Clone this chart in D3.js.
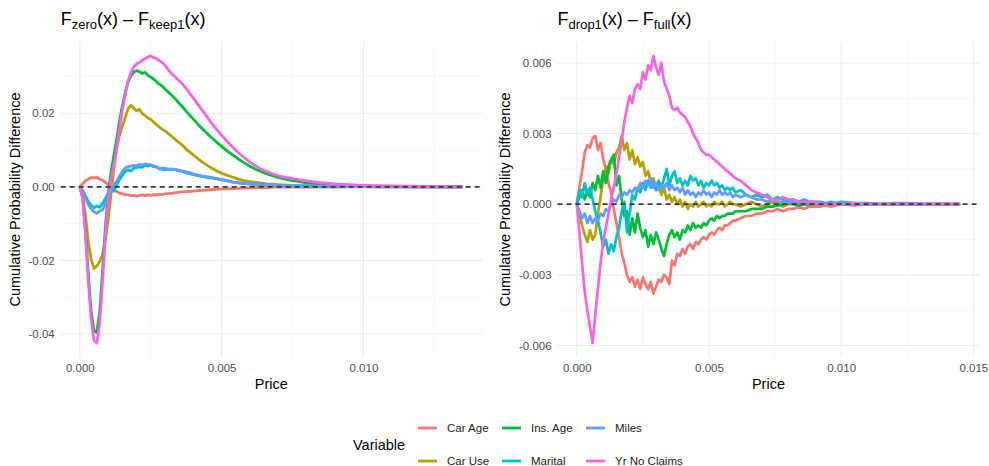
<!DOCTYPE html>
<html>
<head>
<meta charset="utf-8">
<script src="https://cdn.jsdelivr.net/npm/d3@7"></script>
<style>
  html, body { margin: 0; padding: 0; background: #ffffff; }
  svg { display: block; font-family: "Liberation Sans", Arial, Helvetica, sans-serif; }
</style>
</head>
<body>
<svg id="chart" width="989" height="466"></svg>
<script>
// ---- Series order, labels and colours (ggplot hue palette) ----
const variables = ["Car Age", "Car Use", "Ins. Age", "Marital", "Miles", "Yr No Claims"];
const colors = ["#F8766D", "#B79F00", "#00BA38", "#00BFC4", "#619CFF", "#F564E3"];

// ---- Left panel: F_zero(x) - F_keep1(x) ----
const priceL = [
  0, 0.0001, 0.0002, 0.0003, 0.0004, 0.0005, 0.0006, 0.0007, 0.0008, 0.0009, 0.0010,
  0.0011, 0.0012, 0.0013, 0.0014, 0.0015, 0.0016, 0.0017, 0.0018, 0.0019, 0.0020,
  0.0021, 0.0022, 0.0023, 0.0024, 0.0025, 0.0026, 0.0027, 0.0028, 0.0029, 0.0030,
  0.0032, 0.0034, 0.0036, 0.0038, 0.0040, 0.0042, 0.0044, 0.0046, 0.0048, 0.0050,
  0.0052, 0.0054, 0.0056, 0.0058, 0.0060, 0.0062, 0.0064, 0.0066, 0.0068, 0.0070,
  0.0075, 0.0080, 0.0085, 0.0090, 0.0095, 0.0100, 0.0105, 0.0110, 0.0115, 0.0120, 0.0125, 0.0130, 0.0135
];
const carAgeL = [
  0, 0.0008, 0.0016, 0.0021, 0.0025, 0.0024, 0.0025, 0.0021, 0.0018, 0.0012, 0.0006,
  0, -0.0008, -0.0013, -0.0017, -0.0019, -0.0021, -0.0022, -0.0024, -0.0023, -0.0025,
  -0.0024, -0.0022, -0.0024, -0.0022, -0.0023, -0.0021, -0.0022, -0.0020, -0.0021, -0.0019,
  -0.0018, -0.0016, -0.0014, -0.0013, -0.0012, -0.0010, -0.0009, -0.0008, -0.0007, -0.0006,
  -0.0005, -0.0005, -0.0004, -0.0003, -0.0003, -0.0002, -0.0002, -0.0002, -0.0001, -0.0001,
  -0.0001, -0.0001, -0.00005, -0.00005, -0.00003, -0.00002, -0.00001, 0, 0, 0, 0, 0, 0
];
const carUseL = [
  0, -0.002, -0.008, -0.015, -0.0198, -0.0222, -0.0215, -0.0203, -0.0185, -0.0145, -0.009,
  -0.002, 0.005, 0.0105, 0.0142, 0.0165, 0.0188, 0.0212, 0.0222, 0.0213, 0.0207,
  0.0211, 0.0199, 0.0194, 0.0187, 0.0183, 0.0176, 0.0169, 0.0163, 0.0157, 0.0152,
  0.0140, 0.0126, 0.0114, 0.0099, 0.0087, 0.0074, 0.0063, 0.0053, 0.0044, 0.0037,
  0.0031, 0.0026, 0.0021, 0.0017, 0.0014, 0.0012, 0.0010, 0.0008, 0.0007, 0.0006,
  0.0004, 0.0003, 0.0002, 0.0001, 0.00005, 0.00003, 0.00002, 0.00001, 0, 0, 0, 0, 0
];
const insAgeL = [
  0, -0.003, -0.012, -0.024, -0.034, -0.0392, -0.0396, -0.034, -0.023, -0.011, -0.002,
  0.004, 0.0085, 0.013, 0.018, 0.022, 0.0256, 0.0284, 0.0302, 0.0311, 0.0316,
  0.0313, 0.0308, 0.0311, 0.0303, 0.0298, 0.0293, 0.0286, 0.0279, 0.0274, 0.0266,
  0.0252, 0.0236, 0.0219, 0.0201, 0.0184, 0.0167, 0.0152, 0.0137, 0.0123, 0.0110,
  0.0097, 0.0086, 0.0075, 0.0065, 0.0056, 0.0048, 0.0041, 0.0035, 0.0030, 0.0025,
  0.0017, 0.0011, 0.0008, 0.0006, 0.0004, 0.0003, 0.0002, 0.00015, 0.0001, 0.00005, 0.00003, 0.00001, 0
];
const maritalL = [
  0, -0.001, -0.0025, -0.004, -0.005, -0.0057, -0.0052, -0.0056, -0.0045, -0.0032, -0.0018,
  -0.0008, -0.0012, 0.0006, 0.0019, 0.0032, 0.0041, 0.0046, 0.0043, 0.0050, 0.0052,
  0.0055, 0.0053, 0.0058, 0.0056, 0.0060, 0.0055, 0.0055, 0.0050, 0.0047, 0.0046,
  0.0049, 0.0046, 0.0042, 0.0037, 0.0033, 0.0030, 0.0027, 0.0024, 0.0022, 0.0019,
  0.0016, 0.0013, 0.0011, 0.0009, 0.0008, 0.0007, 0.0006, 0.0005, 0.0004, 0.0003,
  0.0003, 0.0002, 0.0002, 0.0001, 0.0001, 0.00005, 0.00005, 0.00003, 0.00002, 0.00001, 0, 0, 0
];
const milesL = [
  0, -0.001, -0.003, -0.0048, -0.006, -0.0068, -0.0072, -0.0066, -0.0063, -0.0046, -0.0029,
  -0.0012, 0.0003, 0.0016, 0.0029, 0.0042, 0.0051, 0.0055, 0.0056, 0.0058, 0.0057,
  0.0061, 0.0059, 0.0062, 0.0061, 0.0058, 0.0057, 0.0053, 0.0049, 0.0051, 0.0050,
  0.0047, 0.0047, 0.0043, 0.0040, 0.0035, 0.0031, 0.0028, 0.0026, 0.0023, 0.0020,
  0.0017, 0.0013, 0.0011, 0.0009, 0.0007, 0.0006, 0.0005, 0.0005, 0.0004, 0.0003,
  0.0002, 0.0002, 0.0001, 0.0001, 0.00005, 0.00005, 0.00003, 0.00002, 0.00001, 0, 0, 0, 0
];
const yrNoClaimsL = [
  0, -0.003, -0.013, -0.026, -0.036, -0.0418, -0.0425, -0.037, -0.026, -0.013, -0.004,
  0.002, 0.006, 0.0105, 0.016, 0.021, 0.025, 0.0288, 0.031, 0.0326, 0.0334,
  0.0338, 0.0344, 0.0348, 0.0353, 0.0356, 0.0351, 0.0349, 0.0343, 0.0338, 0.0331,
  0.0310, 0.0296, 0.0281, 0.0262, 0.0241, 0.0220, 0.0199, 0.0178, 0.0158, 0.0140,
  0.0123, 0.0107, 0.0092, 0.0079, 0.0067, 0.0057, 0.0048, 0.0041, 0.0035, 0.0030,
  0.0022, 0.0016, 0.0011, 0.0008, 0.0006, 0.0004, 0.0003, 0.0002, 0.00015, 0.0001, 0.00005, 0.00002, 0
];

// ---- Right panel: F_drop1(x) - F_full(x) ----
const priceR = [
  0, 0.0001, 0.0002, 0.0003, 0.0004, 0.0005, 0.0006, 0.0007, 0.0008, 0.0009, 0.0010,
  0.0011, 0.0012, 0.0013, 0.0014, 0.0015, 0.0016, 0.0017, 0.0018, 0.0019, 0.0020,
  0.0021, 0.0022, 0.0023, 0.0024, 0.0025, 0.0026, 0.0027, 0.0028, 0.0029, 0.0030,
  0.0031, 0.0032, 0.0033, 0.0034, 0.0035, 0.0036, 0.0037, 0.0038, 0.0039, 0.0040,
  0.0041, 0.0042, 0.0043, 0.0044, 0.0045, 0.0046, 0.0047, 0.0048, 0.0049, 0.0050,
  0.0051, 0.0052, 0.0053, 0.0054, 0.0055, 0.0056, 0.0057, 0.0058, 0.0059, 0.0060,
  0.0062, 0.0064, 0.0066, 0.0068, 0.0070, 0.0072, 0.0074, 0.0076, 0.0078, 0.0080,
  0.0082, 0.0084, 0.0086, 0.0088, 0.0090, 0.0092, 0.0094, 0.0096, 0.0098, 0.0100,
  0.0105, 0.0110, 0.0115, 0.0120, 0.0125, 0.0130, 0.0135, 0.0140, 0.0145
];
const carAgeR = [
  0, 0.0007, 0.0014, 0.0022, 0.0025, 0.0024, 0.0028, 0.0029, 0.0023, 0.0026, 0.0019,
  0.0015, 0.0009, 0.0005, -0.0002, -0.0008, -0.0014, -0.0021, -0.0025, -0.0030, -0.0033,
  -0.0031, -0.0035, -0.0032, -0.0036, -0.0031, -0.0034, -0.0036, -0.0033, -0.0038, -0.0035,
  -0.0032, -0.0033, -0.0030, -0.0031, -0.0034, -0.0024, -0.0026, -0.0021, -0.0022, -0.0019,
  -0.0021, -0.0018, -0.0017, -0.0019, -0.0016, -0.0017, -0.0015, -0.0014, -0.0015, -0.0013,
  -0.0012, -0.0013, -0.0011, -0.0010, -0.0011, -0.0009, -0.0009, -0.0008, -0.0007, -0.0007,
  -0.0006, -0.0005, -0.0005, -0.0004, -0.0004, -0.0003, -0.0003, -0.0002, -0.0003, -0.0002,
  -0.0002, -0.0001, -0.0002, -0.0001, -0.0001, -0.0001, -0.00005, -0.0001, -0.00005, 0,
  -0.00005, 0, 0, 0, 0, 0, 0, 0, 0
];
const carUseR = [
  0, -0.0004, -0.0009, -0.0013, -0.0016, -0.0011, -0.0015, -0.0013, -0.0004, 0.0003, 0.0011,
  0.0016, 0.0013, 0.0019, 0.0017, 0.0022, 0.0024, 0.0029, 0.0023, 0.0026, 0.0019,
  0.0023, 0.0017, 0.0020, 0.0016, 0.0018, 0.0012, 0.0014, 0.0009, 0.0011, 0.0006,
  0.0009, 0.0004, 0.0007, 0.0002, 0.0004, 0.0001, 0.0003, 0.0000, 0.0002, -0.0001,
  0.0001, -0.0002, 0.0000, -0.0001, 0.0001, -0.0001, 0.0000, 0.0001, -0.0001, 0.0000,
  -0.0001, 0.0001, 0.0000, 0.0000, 0.0001, -0.0001, 0.0000, 0.0001, 0.0000, 0.0000,
  -0.0001, 0, 0.0001, 0, -0.0001, 0, 0.0001, 0, -0.0001, 0,
  0, 0.00005, 0, -0.00005, 0, 0, 0, 0, 0, 0,
  0, 0, 0, 0, 0, 0, 0, 0, 0
];
const insAgeR = [
  0, 0.0003, 0.0006, 0.0002, 0.0006, 0.0003, 0.0009, 0.0006, 0.0012, 0.0007, 0.0014,
  0.0009, 0.0016, 0.0019, 0.0021, 0.0008, 0.0012, 0.0002, -0.0005, -0.0003, -0.0013,
  -0.0006, -0.0012, -0.0004, -0.0010, -0.0014, -0.0011, -0.0018, -0.0013, -0.0017, -0.0012,
  -0.0015, -0.0019, -0.0022, -0.0017, -0.0013, -0.0011, -0.0014, -0.0012, -0.0015, -0.0011,
  -0.0012, -0.0009, -0.0011, -0.0008, -0.0010, -0.0009, -0.0010, -0.0008, -0.0009, -0.0007,
  -0.0006, -0.0007, -0.0005, -0.0006, -0.0005, -0.0005, -0.0004, -0.0004, -0.0004, -0.0003,
  -0.0003, -0.0003, -0.0002, -0.0002, -0.0002, -0.0001, -0.0001, -0.00005, 0, 0.00005,
  0, -0.00005, 0, 0, 0.00005, 0, 0, 0, 0, 0,
  0, 0, 0, 0, 0, 0, 0, 0, 0
];
const maritalR = [
  0, 0.0006, 0.0003, 0.0009, 0.0004, 0.0007, 0.0002, -0.0003, -0.0007, -0.0012, -0.0018,
  -0.0015, -0.0021, -0.0017, -0.0020, -0.0014, -0.0010, -0.0003, 0.0001, -0.0012, -0.0004,
  0.0004, 0.0002, 0.0007, 0.0005, 0.0009, 0.0006, 0.0010, 0.0007, 0.0009, 0.0006,
  0.0010, 0.0007, 0.0011, 0.0015, 0.0008, 0.0012, 0.0014, 0.0009, 0.0011, 0.0008,
  0.0010, 0.0008, 0.0012, 0.0010, 0.0011, 0.0008, 0.0010, 0.0007, 0.0009, 0.0008,
  0.0010, 0.0008, 0.0009, 0.0007, 0.0008, 0.0006, 0.0007, 0.0006, 0.0007, 0.0005,
  0.0006, 0.0004, 0.0003, 0.0004, 0.0003, 0.0004, 0.0002, 0.0003, 0.0002, 0.0001,
  0.0002, 0.0001, 0.0002, 0.0001, 0.0001, 0.0001, 0.00005, 0.0001, 0.00005, 0.0001,
  0.00005, 0.00005, 0, 0.00005, 0.00005, 0, 0, 0, 0
];
const milesR = [
  0, -0.0003, -0.0006, -0.0004, -0.0008, -0.0005, -0.0008, -0.0006, -0.0007, -0.0004, -0.0005,
  -0.0002, -0.0003, 0.0000, 0.0002, 0.0001, 0.0004, 0.0003, 0.0005, 0.0004, 0.0006,
  0.0005, 0.0007, 0.0006, 0.0009, 0.0007, 0.0010, 0.0008, 0.0011, 0.0007, 0.0009,
  0.0006, 0.0008, 0.0007, 0.0009, 0.0006, 0.0008, 0.0006, 0.0007, 0.0005, 0.0007,
  0.0004, 0.0006, 0.0004, 0.0005, 0.0003, 0.0005, 0.0004, 0.0006, 0.0004, 0.0005,
  0.0003, 0.0005, 0.0004, 0.0006, 0.0004, 0.0005, 0.0004, 0.0005, 0.0003, 0.0004,
  0.0003, 0.0004, 0.0003, 0.0002, 0.0002, 0.0001, 0.0002, 0.0001, 0.0001, 0.00005,
  0.0001, 0.00005, 0, 0.00005, 0, 0, 0, 0, 0, 0,
  0, 0, 0, 0, 0, 0, 0, 0, 0
];
const yrNoClaimsR = [
  0, -0.0012, -0.0025, -0.0037, -0.0045, -0.0052, -0.0059, -0.0047, -0.0036, -0.0025, -0.0016,
  -0.0010, -0.0004, 0.0002, 0.0007, 0.0013, 0.0020, 0.0027, 0.0035, 0.0041, 0.0046,
  0.0043, 0.0049, 0.0051, 0.0049, 0.0056, 0.0053, 0.0059, 0.0057, 0.0063, 0.0058,
  0.0055, 0.0060, 0.0052, 0.0049, 0.0046, 0.0041, 0.0040, 0.0041, 0.0039, 0.0038,
  0.0037, 0.0035, 0.0033, 0.0030, 0.0028, 0.0026, 0.0023, 0.0022, 0.0021, 0.0021,
  0.0020, 0.0019, 0.0018, 0.0017, 0.0016, 0.0015, 0.0014, 0.0013, 0.0012, 0.0011,
  0.0010, 0.0008, 0.0006, 0.0005, 0.0004, 0.0003, 0.0002, 0.0002, 0.0003, 0.0002,
  0.0002, 0.0001, 0.0001, 0.0001, 0.0001, 0.00005, 0, 0.00005, 0, 0,
  0.00005, 0, 0, 0.00003, 0, 0, 0, 0, 0
];

// ---- Tick values and labels ----
const xTicksL = [0, 0.005, 0.010];
const xTickLabelsL = ["0.000", "0.005", "0.010"];
const xMinorL = [0.0025, 0.0075, 0.0125];
const yTicksL = [-0.04, -0.02, 0, 0.02];
const yTickLabelsL = ["-0.04", "-0.02", "0.00", "0.02"];
const yMinorL = [-0.03, -0.01, 0.01, 0.03];

const xTicksR = [0, 0.005, 0.010, 0.015];
const xTickLabelsR = ["0.000", "0.005", "0.010", "0.015"];
const xMinorR = [0.0025, 0.0075, 0.0125];
const yTicksR = [-0.006, -0.003, 0, 0.003, 0.006];
const yTickLabelsR = ["-0.006", "-0.003", "0.000", "0.003", "0.006"];
const yMinorR = [-0.0045, -0.0015, 0.0015, 0.0045];

const svg = d3.select("#chart");

function drawPanel(cfg) {
  const { left, right, top, bottom, price, series } = cfg;
  // data extents with a 5% pad on every side
  const allY = series.flat();
  const [xmin, xmax] = d3.extent(price);
  const [ymin, ymax] = d3.extent(allY);
  const xPad = (xmax - xmin) * 0.05, yPad = (ymax - ymin) * 0.05;
  const x = d3.scaleLinear().domain([xmin - xPad, xmax + xPad]).range([left, right]);
  const y = d3.scaleLinear().domain([ymin - yPad, ymax + yPad]).range([bottom, top]);

  const g = svg.append("g");

  // grid: minor lines first, then major
  g.selectAll(".xminor").data(cfg.xMinor).join("line")
    .attr("x1", d => x(d)).attr("x2", d => x(d)).attr("y1", top).attr("y2", bottom)
    .attr("stroke", "#F2F2F2").attr("stroke-width", 0.6);
  g.selectAll(".yminor").data(cfg.yMinor).join("line")
    .attr("y1", d => y(d)).attr("y2", d => y(d)).attr("x1", left).attr("x2", right)
    .attr("stroke", "#F2F2F2").attr("stroke-width", 0.6);
  g.append("g").selectAll("line").data(cfg.xTicks).join("line")
    .attr("x1", d => x(d)).attr("x2", d => x(d)).attr("y1", top).attr("y2", bottom)
    .attr("stroke", "#EBEBEB").attr("stroke-width", 1.1);
  g.append("g").selectAll("line").data(cfg.yTicks).join("line")
    .attr("y1", d => y(d)).attr("y2", d => y(d)).attr("x1", left).attr("x2", right)
    .attr("stroke", "#EBEBEB").attr("stroke-width", 1.1);

  // axes (labels only, no domain line / tick marks)
  const xAxis = d3.axisBottom(x).tickValues(cfg.xTicks)
    .tickFormat((d, i) => cfg.xTickLabels[i]).tickSize(0).tickPadding(6);
  const ax = g.append("g").attr("transform", `translate(0,${bottom})`).call(xAxis);
  ax.select(".domain").remove();
  ax.selectAll("text").attr("fill", "#4D4D4D").style("font-size", "11.5px")
    .style("font-family", "'Liberation Sans', Arial, sans-serif");

  const yAxis = d3.axisLeft(y).tickValues(cfg.yTicks)
    .tickFormat((d, i) => cfg.yTickLabels[i]).tickSize(0).tickPadding(6);
  const ay = g.append("g").attr("transform", `translate(${left},0)`).call(yAxis);
  ay.select(".domain").remove();
  ay.selectAll("text").attr("fill", "#4D4D4D").style("font-size", "11.5px")
    .style("font-family", "'Liberation Sans', Arial, sans-serif");

  // curves
  const line = d3.line().x((d, i) => x(price[i])).y(d => y(d));
  g.append("g").selectAll("path").data(series).join("path")
    .attr("d", d => line(d))
    .attr("fill", "none")
    .attr("stroke", (d, i) => colors[i])
    .attr("stroke-width", cfg.lineWidth)
    .attr("stroke-linejoin", "round");

  // zero reference line
  g.append("line")
    .attr("x1", left).attr("x2", right).attr("y1", y(0)).attr("y2", y(0))
    .attr("stroke", "#3A3A3A").attr("stroke-width", 1.8)
    .attr("stroke-dasharray", "5,4");

  // axis titles
  g.append("text").attr("x", (left + right) / 2).attr("y", bottom + 31)
    .attr("text-anchor", "middle").style("font-size", "14.5px").attr("fill", "#000")
    .text("Price");
  g.append("text")
    .attr("transform", `translate(${cfg.yTitleX},${(top + bottom) / 2}) rotate(-90)`)
    .attr("text-anchor", "middle").attr("dominant-baseline", "central")
    .style("font-size", "14.5px").attr("fill", "#000")
    .text("Cumulative Probability Difference");

  // panel title with subscripts
  const t = g.append("text").attr("x", left).attr("y", 25).style("font-size", "18px").attr("fill", "#000");
  t.append("tspan").text("F");
  t.append("tspan").attr("dy", 4).style("font-size", "13px").text(cfg.sub1);
  t.append("tspan").attr("dy", -4).text("(x) \u2013 F");
  t.append("tspan").attr("dy", 4).style("font-size", "13px").text(cfg.sub2);
  t.append("tspan").attr("dy", -4).text("(x)");
}

drawPanel({
  left: 60.7, right: 481.8, top: 41.5, bottom: 357.5,
  price: priceL,
  series: [carAgeL, carUseL, insAgeL, maritalL, milesL, yrNoClaimsL],
  xTicks: xTicksL, xTickLabels: xTickLabelsL, xMinor: xMinorL,
  yTicks: yTicksL, yTickLabels: yTickLabelsL, yMinor: yMinorL,
  yTitleX: 15, sub1: "zero", sub2: "keep1", lineWidth: 2.8
});

drawPanel({
  left: 557.6, right: 979.3, top: 41.5, bottom: 357.5,
  price: priceR,
  series: [carAgeR, carUseR, insAgeR, maritalR, milesR, yrNoClaimsR],
  xTicks: xTicksR, xTickLabels: xTickLabelsR, xMinor: xMinorR,
  yTicks: yTicksR, yTickLabels: yTickLabelsR, yMinor: yMinorR,
  yTitleX: 505, sub1: "drop1", sub2: "full", lineWidth: 2.7
});

// ---- Legend (two rows, filled column by column) ----
const legend = svg.append("g");
legend.append("text").attr("x", 353).attr("y", 445)
  .attr("dominant-baseline", "central").style("font-size", "14.5px").attr("fill", "#000")
  .text("Variable");
const colX = [418, 502, 586];
const rowY = [428, 461];
const items = legend.selectAll("g.item").data(variables).join("g")
  .attr("transform", (d, i) => `translate(${colX[Math.floor(i / 2)]},${rowY[i % 2]})`);
items.append("line").attr("x1", 0).attr("x2", 19).attr("y1", 0).attr("y2", 0)
  .attr("stroke", (d, i) => colors[i]).attr("stroke-width", 2.8);
items.append("text").attr("x", 29).attr("y", 0).attr("dominant-baseline", "central")
  .style("font-size", "11.5px").attr("fill", "#1A1A1A").text(d => d);
</script>
</body>
</html>
